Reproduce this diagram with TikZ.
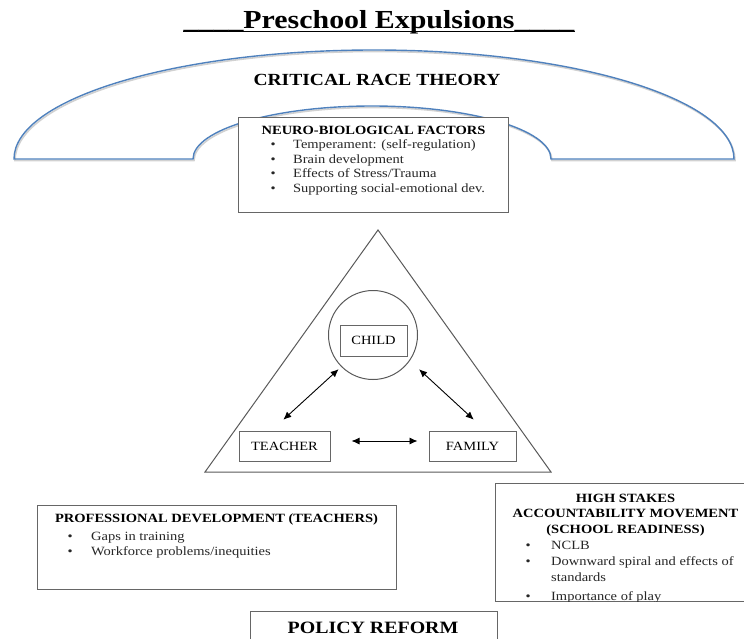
\documentclass[tikz,border=0pt]{standalone}
\usepackage{fontspec}
\setmainfont{Liberation Serif}[FakeStretch=1.15]
\usetikzlibrary{arrows.meta,positioning}
\definecolor{archblue}{RGB}{79,129,189}
\tikzset{
    archline/.style={draw=archblue, line width=1.4pt, preaction={draw=black!18, line width=1.6pt, transform canvas={xshift=1pt,yshift=-1.5pt}}},
    framebox/.style={draw=black!60, line width=1pt, fill=white, inner sep=0},
    namebox/.style={framebox, font=\fontsize{12.6}{14.5}\selectfont},
    outline/.style={draw=black!65, line width=1pt},
    heading/.style={inner sep=0, anchor=base, font=\bfseries\fontsize{12.6}{15.5}\selectfont},
    bullets/.style={inner sep=0, anchor=base west, text=black!85, font=\fontsize{12.6}{14.5}\selectfont},
    twoway/.style={{Latex[length=8pt,width=7pt]}-{Latex[length=8pt,width=7pt]}, line width=0.9pt}
}

\begin{document}
\begin{tikzpicture}[x=1pt,y=-1pt]
\useasboundingbox (0,0) rectangle (744,639);
\clip (0,0) rectangle (744,639);

% title
\node[inner sep=0, anchor=base, font=\bfseries\fontsize{26}{30}\selectfont] (title) at (379,29) {\_\_\_\_Preschool Expulsions\_\_\_\_};
\draw[line width=1.4pt] ([yshift=-2.6pt]title.base west) -- ([yshift=-2.6pt]title.base east);

% critical race theory arch
\draw[archline] (14,159) arc[start angle=180, end angle=0, x radius=360pt, y radius=109pt]
    -- (551,159) arc[start angle=0, end angle=180, x radius=179pt, y radius=53pt] -- cycle;
\node[heading, font=\bfseries\fontsize{17}{20}\selectfont] (crt) at (377,86) {CRITICAL RACE THEORY};

% neuro-biological box
\node[framebox, minimum width=270pt, minimum height=95pt] (neuro) at (373,165.5) {};
\node[heading] (neurohead) at (373.5,135) {NEURO-BIOLOGICAL FACTORS};
\node[bullets] (neurolist) at (270.5,149) {\begin{tabular}[t]{@{}l@{\hspace{17.4pt}}l@{}}
    \textbullet & Temperament: (self-regulation)\\
    \textbullet & Brain development\\
    \textbullet & Effects of Stress/Trauma\\
    \textbullet & Supporting social-emotional dev.
    \end{tabular}};

% triangle with child, teacher, family
\draw[outline] (378,230) -- (551,472) -- (205,472) -- cycle;
\node[outline, circle, minimum size=89pt, inner sep=0] (circ) at (373,335) {};
\node[namebox, minimum width=67pt, minimum height=31pt] (child) at (373.5,340.5) {CHILD};
\node[namebox, minimum width=91pt, minimum height=30pt] (teacher) at (284.5,446) {TEACHER};
\node[namebox, minimum width=87pt, minimum height=30pt] (family) at (472.5,446) {FAMILY};
\draw[twoway, shorten <=3.5pt, shorten >=16pt] (circ.225) -- (teacher.130);
\draw[twoway, shorten <=12.5pt, shorten >=16pt] (circ.325) -- (family.50);
\draw[twoway, shorten <=21pt, shorten >=11pt] ([yshift=5pt]teacher.east) -- ([yshift=5pt]family.west);

% professional development box
\node[framebox, minimum width=359pt, minimum height=84pt] (profdev) at (216.5,547) {};
\node[heading] (profhead) at (216.5,522) {PROFESSIONAL DEVELOPMENT (TEACHERS)};
\node[bullets] (proflist) at (67.5,540.5) {\begin{tabular}[t]{@{}l@{\hspace{18.4pt}}l@{}}
    \textbullet & Gaps in training\\
    \textbullet & Workforce problems/inequities
    \end{tabular}};

% high stakes box
\node[framebox, minimum width=265pt, minimum height=118pt] (stakes) at (627.5,542) {};
\begin{scope}
\clip (stakes.south west) rectangle (stakes.north east);
\node[heading] (stakeshead) at (625.5,502) {\begin{tabular}[t]{@{}c@{}}
    HIGH STAKES\\
    ACCOUNTABILITY MOVEMENT\\
    (SCHOOL READINESS)
    \end{tabular}};
\node[bullets, font=\fontsize{12.6}{16.3}\selectfont] (stakeslist) at (525.5,549) {\begin{tabular}[t]{@{}l@{\hspace{20.4pt}}l@{}}
    \textbullet & NCLB\\
    \textbullet & Downward spiral and effects of\\
                & standards\\[2.5pt]
    \textbullet & Importance of play
    \end{tabular}};
\end{scope}

% policy reform box
\node[framebox, minimum width=247pt, minimum height=49pt] (policy) at (373.5,635.5) {};
\node[heading, font=\bfseries\fontsize{17.3}{20}\selectfont] (policyhead) at (373,633) {POLICY REFORM};
\end{tikzpicture}
\end{document}
